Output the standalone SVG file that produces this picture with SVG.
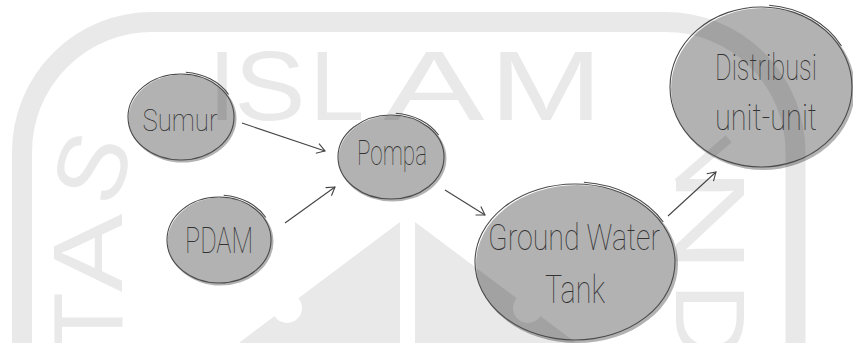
<svg xmlns="http://www.w3.org/2000/svg" width="853" height="343" viewBox="0 0 853 343">
  <defs>
    <style>
      .wm { fill: #e9e9e9; font-family: "Liberation Sans", Arial, sans-serif; font-size: 98px; text-anchor: middle; }
      .band { fill: none; stroke: #e9e9e9; stroke-width: 20; }
      .blob { fill: #000; fill-opacity: 0.3; }
      .rim { fill: none; stroke: #4a4a4a; stroke-width: 1.1; }
      .label { fill: #333; font-family: Roboto, "Liberation Sans Narrow", "DejaVu Sans Condensed", sans-serif; font-weight: 100; text-anchor: middle; }
      .edge { fill: none; stroke: #444; stroke-width: 1.1; marker-end: url(#chevron); }
    </style>
    <marker id="chevron" markerUnits="userSpaceOnUse" markerWidth="14" markerHeight="14" viewBox="-10 -7 12 14" refX="0" refY="0" orient="auto">
      <path d="M -8 -5 L 0 0 L -8 5" fill="none" stroke="#444" stroke-width="1.1"/>
    </marker>
  </defs>

  <rect width="853" height="343" fill="#fff"/>

  <!-- faint background emblem -->
  <g id="watermark">
    <path class="band" d="M 22 343 V 152 A 130 130 0 0 1 152 22 H 665.5 A 130 130 0 0 1 795.5 152 V 343"/>
    <path fill="#e9e9e9" d="M 400 222 L 240 342 L 240 343 L 400 343 Z"/>
    <path fill="#e9e9e9" d="M 415 222 L 575 342 L 575 343 L 415 343 Z"/>
    <circle cx="287" cy="308" r="15" fill="#fff"/>
    <circle cx="528" cy="308" r="15" fill="#fff"/>
    <text class="wm" x="222" y="120">I</text>
    <text class="wm" transform="translate(270 120) scale(1.09 1)">S</text>
    <text class="wm" x="337" y="120">L</text>
    <text class="wm" transform="translate(434 120) scale(1.55 1)">A</text>
    <text class="wm" transform="translate(546 120) scale(1.39 1)">M</text>
    <text class="wm" x="0" y="35" transform="translate(91 167) rotate(-72)">S</text>
    <text class="wm" x="0" y="35" transform="translate(87 253) rotate(-90) scale(1.2 1)">A</text>
    <text class="wm" x="0" y="35" transform="translate(87 322) rotate(-90)">T</text>
    <text class="wm" x="0" y="35" transform="translate(704 160) rotate(49)">I</text>
    <text class="wm" x="0" y="35" transform="translate(711 220) rotate(90) scale(1.5 1)">N</text>
    <text class="wm" x="0" y="35" transform="translate(711 322) rotate(90) scale(1.1 1)">D</text>
  </g>

  <!-- connectors -->
  <g id="connectors">
    <path class="edge" d="M 242 123 L 325 151"/>
    <path class="edge" d="M 285 223 L 335 187"/>
    <path class="edge" d="M 445 190 L 485 215"/>
    <path class="edge" d="M 668 216 L 716 172"/>
  </g>

  <g id="node-sumur">
    <ellipse class="blob" cx="182.5" cy="118.5" rx="54" ry="44"/>
    <ellipse class="rim" cx="181" cy="117" rx="53" ry="43"/>
    <path class="rim" d="M 185.8 72.2 A 55 45 0 0 1 228.6 94.5"/>
    <text class="label" x="180" y="131" font-size="32" textLength="75" lengthAdjust="spacingAndGlyphs">Sumur</text>
  </g>

  <g id="node-pdam">
    <ellipse class="blob" cx="220.5" cy="241.5" rx="53" ry="44"/>
    <ellipse class="rim" cx="219" cy="240" rx="52" ry="43"/>
    <path class="rim" d="M 223.7 195.2 A 54 45 0 0 1 265.8 217.5"/>
    <text class="label" x="219" y="253" font-size="36" textLength="68" lengthAdjust="spacingAndGlyphs">PDAM</text>
  </g>

  <g id="node-pompa">
    <ellipse class="blob" cx="392.5" cy="158.5" rx="54" ry="43"/>
    <ellipse class="rim" cx="391" cy="157" rx="53" ry="42"/>
    <path class="rim" d="M 395.8 113.2 A 55 44 0 0 1 438.6 135"/>
    <text class="label" x="392" y="165" font-size="35" textLength="70" lengthAdjust="spacingAndGlyphs">Pompa</text>
  </g>

  <g id="node-ground-water-tank">
    <ellipse class="blob" cx="577" cy="264" rx="101" ry="79"/>
    <ellipse class="rim" cx="575" cy="262" rx="100" ry="78"/>
    <path class="rim" d="M 583.9 182.3 A 102 80 0 0 1 663.3 222"/>
    <text class="label" x="574" y="250" font-size="37" textLength="172" lengthAdjust="spacingAndGlyphs">Ground Water</text>
    <text class="label" x="575" y="303" font-size="38" textLength="60" lengthAdjust="spacingAndGlyphs">Tank</text>
  </g>

  <g id="node-distribusi">
    <ellipse class="blob" cx="763" cy="89" rx="92" ry="81"/>
    <ellipse class="rim" cx="761" cy="87" rx="91" ry="80"/>
    <path class="rim" d="M 769.1 5.3 A 93 82 0 0 1 841.5 46"/>
    <text class="label" x="766" y="80" font-size="37" textLength="102" lengthAdjust="spacingAndGlyphs">Distribusi</text>
    <text class="label" x="766" y="130" font-size="37" textLength="102" lengthAdjust="spacingAndGlyphs">unit-unit</text>
  </g>
</svg>
